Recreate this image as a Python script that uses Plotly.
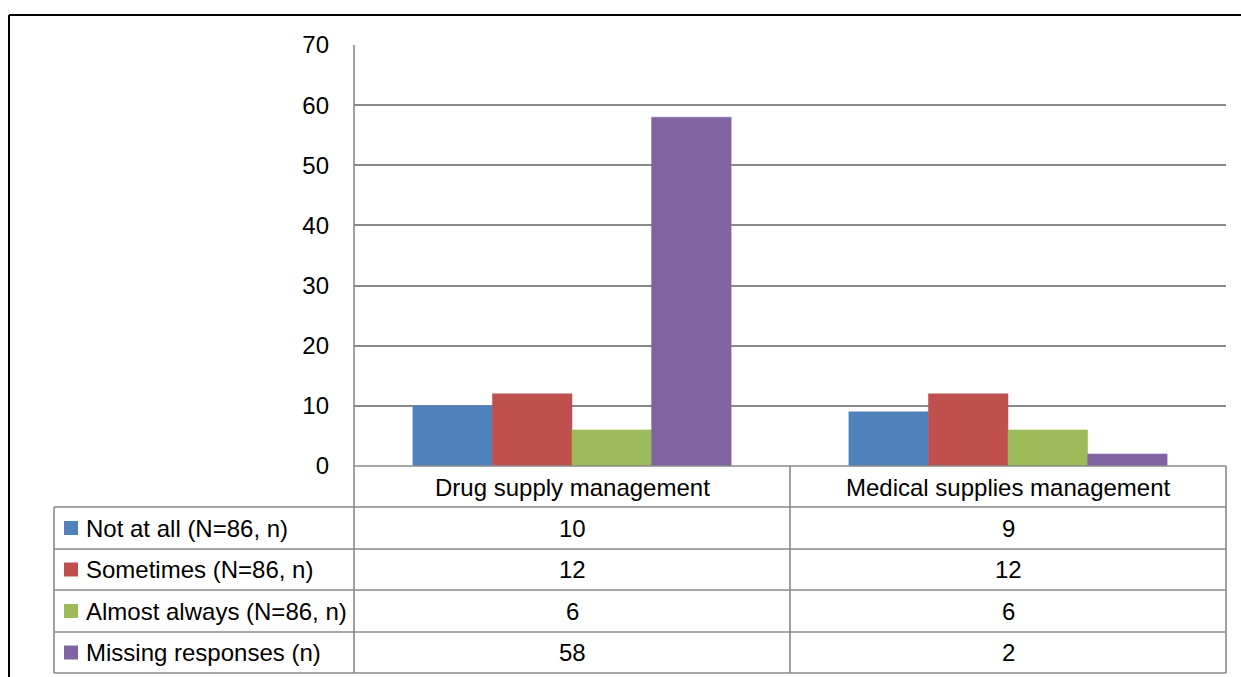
import plotly.graph_objects as go

categories = ["Drug supply management", "Medical supplies management"]
series_names = ["Not at all (N=86, n)", "Sometimes (N=86, n)",
                "Almost always (N=86, n)", "Missing responses (n)"]
not_at_all = [10, 9]
sometimes = [12, 12]
almost_always = [6, 6]
missing = [58, 2]
y_ticks = [0, 10, 20, 30, 40, 50, 60, 70]

colors = ["#4F81BD", "#C0504D", "#9BBB59", "#8064A2"]
series_values = [not_at_all, sometimes, almost_always, missing]

W, H = 1241, 677
FONT = "Liberation Sans"
FS = 24
GRID = "#8a8a8a"


def px(x):
    return x / W


def py(y):
    return 1 - y / H


fig = go.Figure()
for name, vals, col in zip(series_names, series_values, colors):
    fig.add_trace(go.Bar(x=categories, y=vals, name=name,
                         marker=dict(color=col, line=dict(color=col, width=0.5))))

shapes = []


def line(x0, y0, x1, y1, color=GRID, width=1.6):
    shapes.append(dict(type="line", xref="paper", yref="paper",
                       x0=px(x0), y0=py(y0), x1=px(x1), y1=py(y1),
                       line=dict(color=color, width=width)))


# outer frame (black)
line(9, 15, 1245, 15, color="black", width=2)
line(9, 15, 9, 680, color="black", width=2)

# data table lines
row_y = [466, 507, 549, 590, 632, 673]
line(354, 466, 1226, 466)
for yy in row_y[1:]:
    line(54, yy, 1226, yy)
line(54, 507, 54, 673)
line(354, 45, 354, 673)
line(790, 466, 790, 673)
line(1226, 466, 1226, 673)

annotations = []
# category header labels
for c in categories:
    annotations.append(dict(x=c, xref="x", y=py(487), yref="paper",
                            text=c, showarrow=False,
                            font=dict(family=FONT, size=FS, color="black"),
                            xanchor="center", yanchor="middle"))
# rows
for i, (name, vals, col) in enumerate(zip(series_names, series_values, colors)):
    yc = (row_y[i + 1] + row_y[i + 2]) / 2
    shapes.append(dict(type="rect", xref="paper", yref="paper",
                       x0=px(64), x1=px(78), y0=py(yc - 7), y1=py(yc + 7),
                       fillcolor=col, line=dict(width=0)))
    annotations.append(dict(x=px(84), xref="paper", y=py(yc), yref="paper",
                            text=name, showarrow=False,
                            font=dict(family=FONT, size=FS, color="black"),
                            xanchor="left", yanchor="middle"))
    for c, v in zip(categories, vals):
        annotations.append(dict(x=c, xref="x", y=py(yc), yref="paper",
                                text=str(v), showarrow=False,
                                font=dict(family=FONT, size=FS, color="black"),
                                xanchor="center", yanchor="middle"))

fig.update_layout(
    width=W, height=H, autosize=False,
    margin=dict(l=0, r=0, t=0, b=0, pad=0, autoexpand=False),
    paper_bgcolor="white", plot_bgcolor="white",
    barmode="group", bargap=0.27, bargroupgap=0,
    showlegend=False,
    font=dict(family=FONT, size=FS, color="black"),
    xaxis=dict(domain=[px(354), px(1226)], showticklabels=False,
               showgrid=False, zeroline=False, showline=False, ticks="",
               automargin=False, fixedrange=True),
    yaxis=dict(domain=[py(466), py(45)], range=[0, 70], tickvals=y_ticks,
               showgrid=True, gridcolor=GRID, gridwidth=1.6,
               zeroline=False, showline=False, ticks="",
               ticklabelstandoff=24, automargin=False,
               tickfont=dict(family=FONT, size=FS, color="black"),
               fixedrange=True),
    shapes=shapes, annotations=annotations,
)

fig.write_html("out.html", config={"displayModeBar": False},
               post_script="document.body.style.margin='0';")
